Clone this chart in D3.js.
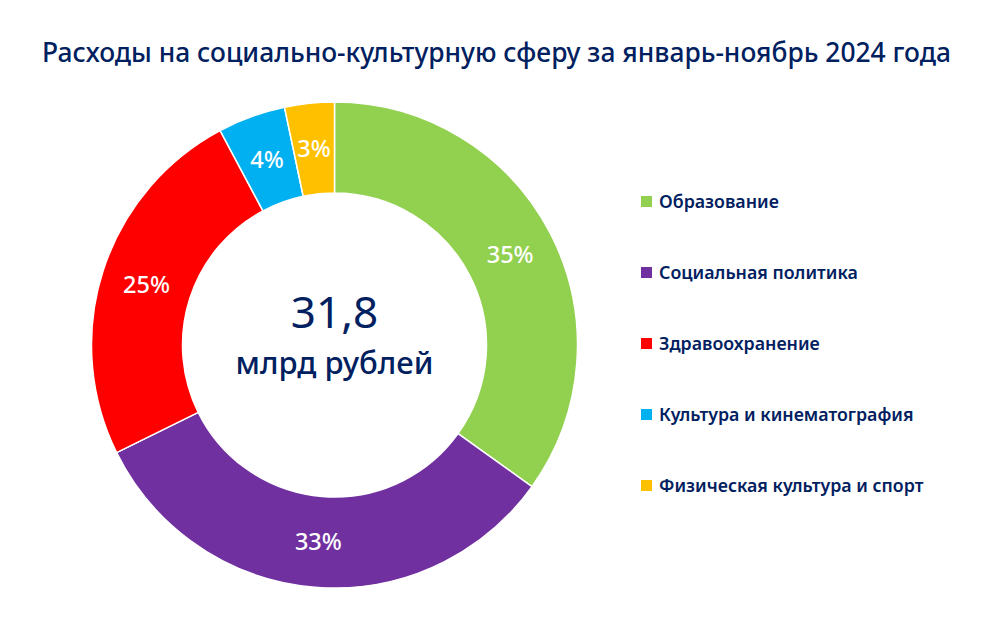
<!DOCTYPE html>
<html>
<head>
<meta charset="utf-8">
<script src="https://cdn.jsdelivr.net/npm/d3@7"></script>
<style>
  body { margin: 0; background: #fff; }
  text { font-family: "Noto Sans", "Open Sans", sans-serif; }
</style>
</head>
<body>
<svg id="chart" width="1000" height="623"></svg>
<script>
var categories = ['Образование', 'Социальная политика', 'Здравоохранение', 'Культура и кинематография', 'Физическая культура и спорт'];
var shares = [34.9, 32.8, 24.5, 4.5, 3.3];
var shareLabels = ['35%', '33%', '25%', '4%', '3%'];
var colors = ['#92d050', '#7030a0', '#ff0000', '#00b0f0', '#ffc000'];
var titleText = 'Расходы на социально-культурную сферу за январь-ноябрь 2024 года';
var totalValue = '31,8';
var totalUnit = 'млрд рублей';

var navy = '#002060';
var svg = d3.select('#chart');

svg.append('text')
  .attr('x', 496.5).attr('y', 62)
  .attr('text-anchor', 'middle')
  .attr('font-size', 26.4).attr('font-weight', 500)
  .attr('fill', navy)
  .text(titleText);

var cx = 334.5, cy = 345;
var ring = svg.append('g').attr('transform', 'translate(' + cx + ',' + cy + ')');

var pie = d3.pie().sort(null).value(function(d) { return d; });
var arc = d3.arc().innerRadius(152).outerRadius(243);

// Slices
ring.selectAll('path')
  .data(pie(shares))
  .enter()
  .append('path')
  .attr('d', arc)
  .attr('fill', function(d, i) { return colors[i]; })
  .attr('stroke', '#fff')
  .attr('stroke-width', 1.5);

// Percent labels
ring.selectAll('text.pct')
  .data(pie(shares))
  .enter()
  .append('text')
  .attr('class', 'pct')
  .attr('transform', function(d) { return 'translate(' + arc.centroid(d) + ')'; })
  .attr('text-anchor', 'middle')
  .attr('dy', '0.36em')
  .attr('font-size', 23.5).attr('font-weight', 500)
  .attr('fill', '#fff')
  .text(function(d, i) { return shareLabels[i]; });

// Centre text
ring.append('text')
  .attr('y', -17)
  .attr('text-anchor', 'middle')
  .attr('font-size', 44).attr('font-weight', 400)
  .attr('fill', navy)
  .text(totalValue);
ring.append('text')
  .attr('y', 29)
  .attr('text-anchor', 'middle')
  .attr('font-size', 31).attr('font-weight', 500)
  .attr('fill', navy)
  .text(totalUnit);

// Legend
var legendY = d3.scalePoint().domain(categories).range([202, 486]);
var legend = svg.append('g').selectAll('g')
  .data(categories)
  .enter()
  .append('g')
  .attr('transform', function(d) { return 'translate(641,' + legendY(d) + ')'; });

legend.append('rect')
  .attr('x', 0).attr('y', -6)
  .attr('width', 11).attr('height', 11)
  .attr('fill', function(d, i) { return colors[i]; });

legend.append('text')
  .attr('x', 18).attr('dy', '0.36em')
  .attr('font-size', 17.8).attr('font-weight', 600)
  .attr('fill', navy)
  .text(function(d) { return d; });
</script>
</body>
</html>
